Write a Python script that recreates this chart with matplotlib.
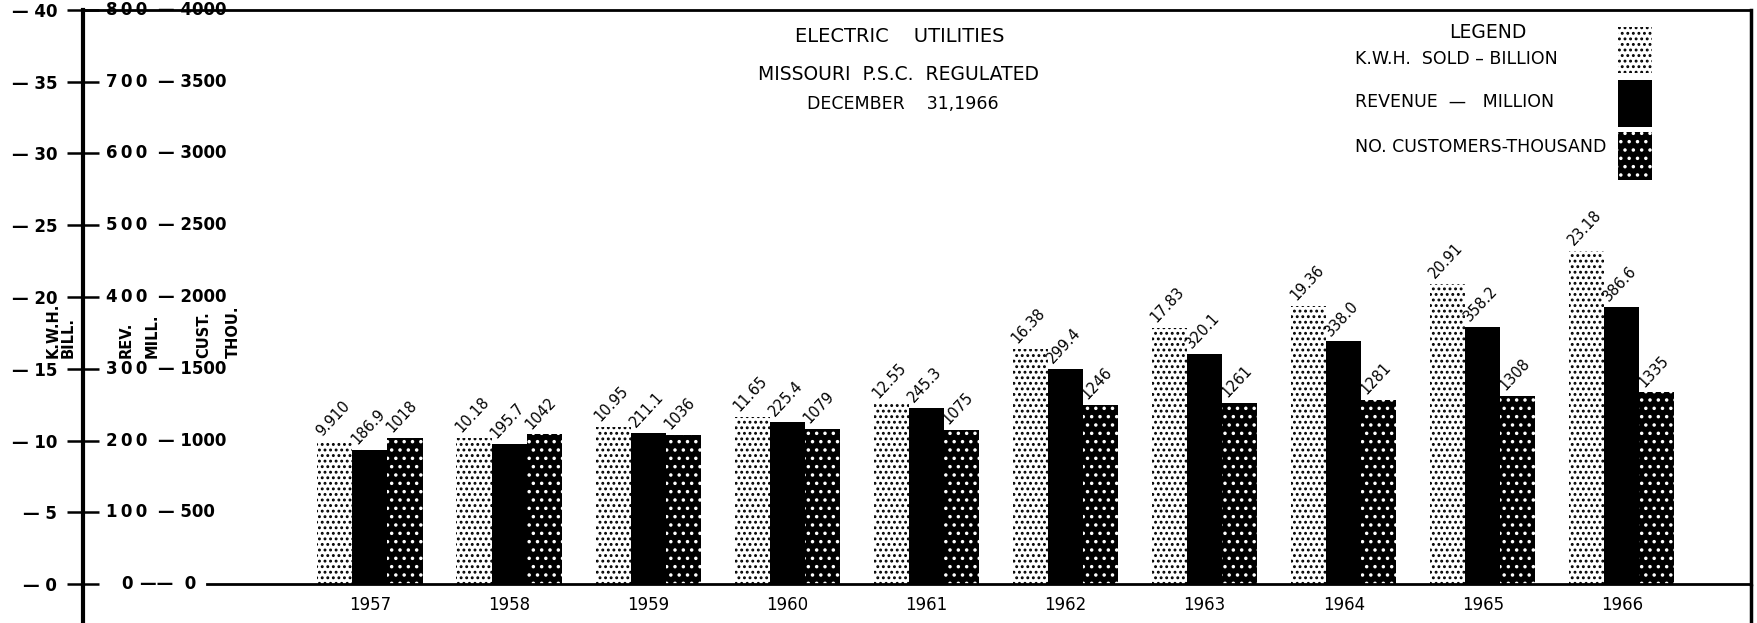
import numpy as np
import matplotlib.pyplot as plt
from matplotlib.patches import Rectangle
from matplotlib.transforms import blended_transform_factory

# data
years = ['1957', '1958', '1959', '1960', '1961', '1962', '1963', '1964', '1965', '1966']
kwh_billion = [9.910, 10.18, 10.95, 11.65, 12.55, 16.38, 17.83, 19.36, 20.91, 23.18]
kwh_labels = ['9.910', '10.18', '10.95', '11.65', '12.55', '16.38', '17.83', '19.36', '20.91', '23.18']
revenue_million = [186.9, 195.7, 211.1, 225.4, 245.3, 299.4, 320.1, 338.0, 358.2, 386.6]
revenue_labels = ['186.9', '195.7', '211.1', '225.4', '245.3', '299.4', '320.1', '338.0', '358.2', '386.6']
customers_thousand = [1018, 1042, 1036, 1079, 1075, 1246, 1261, 1281, 1308, 1335]
customers_labels = ['1018', '1042', '1036', '1079', '1075', '1246', '1261', '1281', '1308', '1335']

kwh_ticks = [0, 5, 10, 15, 20, 25, 30, 35, 40]
rev_ticks = [0, 100, 200, 300, 400, 500, 600, 700, 800]
cust_ticks = [0, 500, 1000, 1500, 2000, 2500, 3000, 3500, 4000]

# the three series share one scale: 10 kwh = 200 rev = 1000 cust
rev_scale = 20.0
cust_scale = 100.0

plt.rcParams['hatch.linewidth'] = 1.3
W, H = 1757, 623
fig = plt.figure(figsize=(W / 100, H / 100), dpi=100)
ax = fig.add_axes([83 / W, 39 / H, 1668 / W, 574 / H])

x = np.arange(len(years))
w = 0.252
ax.bar(x - w, kwh_billion, w, color='white', edgecolor='black', hatch='...', linewidth=0)
ax.bar(x, np.array(revenue_million) / rev_scale, w, color='black', linewidth=0)
ax.bar(x + w, np.array(customers_thousand) / cust_scale, w, color='black',
       edgecolor='white', hatch='..', linewidth=0)

ax.set_xlim(-2.063, 9.928)
ax.set_ylim(0, 40)

# value labels, slanted
for i in range(len(years)):
    for dx, val, lab in [(-w, kwh_billion[i], kwh_labels[i]),
                         (0, revenue_million[i] / rev_scale, revenue_labels[i]),
                         (w, customers_thousand[i] / cust_scale, customers_labels[i])]:
        ax.text(x[i] + dx - 0.3 * w, val + 0.2, lab, rotation=47, rotation_mode='anchor',
                ha='left', va='bottom', fontsize=10.5)

# frame
for s in ['left', 'right', 'top', 'bottom']:
    ax.spines[s].set_color('black')
ax.spines['left'].set_linewidth(3)
ax.spines['top'].set_linewidth(2)
ax.spines['right'].set_linewidth(2.5)
ax.spines['bottom'].set_linewidth(2)
ax.spines['bottom'].set_bounds(-1.172, 9.928)
ax.plot([0, 0], [0, -0.08], transform=ax.transAxes, color='black', lw=3,
        clip_on=False, solid_capstyle='butt')
ax.plot([1, 1], [0, -0.08], transform=ax.transAxes, color='black', lw=2.5,
        clip_on=False, solid_capstyle='butt')

# left scale (kwh) as ticks
ax.set_yticks(kwh_ticks)
ax.set_yticklabels(['\u2014 %d' % t for t in kwh_ticks], fontsize=12, fontweight='bold')
ax.tick_params(axis='y', direction='inout', length=23, width=1.8, pad=7)

# revenue and customer scales as text columns
tr = blended_transform_factory(fig.transFigure, ax.transData)
for k, r, c in zip(kwh_ticks, rev_ticks, cust_ticks):
    ax.text(127 / W, k, '\u2009'.join(str(r)), transform=tr, ha='center', va='center',
            fontsize=12, fontweight='bold', zorder=1, clip_on=False)
    ctxt = '\u2014\u2014  0' if c == 0 else '\u2014 %d' % c
    cx = 140 if c == 0 else 158
    ax.text(cx / W, k, ctxt, transform=tr, ha='left', va='center',
            fontsize=12, fontweight='bold', zorder=1, clip_on=False)

# rotated scale names
for txt, px in [('K.W.H.', 53), ('BILL.', 68), ('REV.', 126), ('MILL.', 152),
                ('CUST.', 204), ('THOU.', 233)]:
    fig.text(px / W, (H - 358) / H, txt, rotation=90, ha='center', va='bottom',
             fontsize=10.5, fontweight='bold')

# years
ax.set_xticks(x)
ax.set_xticklabels(years, fontsize=12)
ax.tick_params(axis='x', length=0, pad=9)

# title
fig.text(900 / W, 1 - 37 / H, 'ELECTRIC    UTILITIES', ha='center', va='center', fontsize=14)
fig.text(899 / W, 1 - 74 / H, 'MISSOURI  P.S.C.  REGULATED', ha='center', va='center', fontsize=13.5)
fig.text(903 / W, 1 - 104 / H, 'DECEMBER    31,1966', ha='center', va='center', fontsize=12.5)

# legend
fig.text(1488 / W, 1 - 32 / H, 'LEGEND', ha='center', va='center', fontsize=13.5)
legend_rows = [('K.W.H.  SOLD \u2013 BILLION', 59),
               ('REVENUE  \u2014   MILLION', 102),
               ('NO. CUSTOMERS-THOUSAND', 147)]
for txt, py in legend_rows:
    fig.text(1355 / W, 1 - py / H, txt, ha='left', va='center', fontsize=12.5)

swatches = [(27, 73, 'white', 'black', '...'),
            (80, 127, 'black', 'black', None),
            (132, 180, 'black', 'white', '..')]
for top, bot, fc, ec, hatch in swatches:
    fig.add_artist(Rectangle((1618 / W, 1 - bot / H), 34 / W, (bot - top) / H,
                             transform=fig.transFigure, facecolor=fc, edgecolor=ec,
                             hatch=hatch, linewidth=0))

fig.savefig('out.png', dpi=100)
